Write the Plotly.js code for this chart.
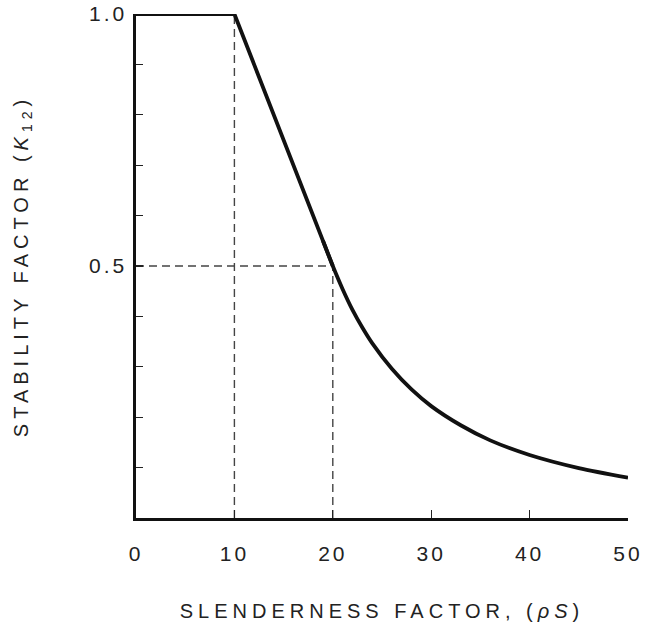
<!DOCTYPE html>
<html>
<head>
<meta charset="utf-8">
<script src="https://cdn.plot.ly/plotly-3.0.1.min.js"></script>
<style>
  html, body { margin: 0; padding: 0; background: #fff; }
  #chart { width: 645px; height: 629px; }
  .xtick text, .ytick text { letter-spacing: 3px; }
  .g-xtitle text, .g-ytitle text { letter-spacing: 5px; }
</style>
</head>
<body>
<div id="chart"></div>
<script>
// Stability factor K12 vs slenderness factor (rho S)
// Straight part: plateau and linear ramp
var rampX = [0, 10, 20];
var rampY = [1.0, 1.0, 0.50];
// Curved decay beyond rho S = 20 (starts on the ramp so the join is smooth)
var decayX = [19, 20, 21, 22, 23, 24, 26, 28, 30, 33, 36, 40, 45, 50];
var decayY = [0.55, 0.50, 0.454, 0.413, 0.378, 0.347, 0.296, 0.255, 0.222, 0.184, 0.154, 0.125, 0.099, 0.080];

// Reference (dashed) guide lines
var guideVert10X = [10, 10];
var guideVert10Y = [0, 1.0];
var guideVert20X = [20, 20];
var guideVert20Y = [0, 0.5];
var guideHorizX  = [0, 20];
var guideHorizY  = [0.5, 0.5];

var xTickVals = [0, 10, 20, 30, 40, 50];
var xTickText = ['0', '10', '20', '30', '40', '50'];
var yTickVals = [0.1, 0.2, 0.3, 0.4, 0.5, 0.6, 0.7, 0.8, 0.9, 1.0];
var yTickText = ['', '', '', '', '0.5', '', '', '', '', '1.0'];

var dashStyle = {color: '#444', width: 1.4, dash: '8px,5px'};
var curveLine = {color: '#111', width: 3.8};

var traces = [
  {x: guideVert10X, y: guideVert10Y, mode: 'lines', line: dashStyle, hoverinfo: 'skip', cliponaxis: false},
  {x: guideVert20X, y: guideVert20Y, mode: 'lines', line: dashStyle, hoverinfo: 'skip', cliponaxis: false},
  {x: guideHorizX,  y: guideHorizY,  mode: 'lines', line: dashStyle, hoverinfo: 'skip', cliponaxis: false},
  {x: rampX, y: rampY, mode: 'lines', line: curveLine, cliponaxis: false},
  {x: decayX, y: decayY, mode: 'lines',
   line: {color: curveLine.color, width: curveLine.width, shape: 'spline', smoothing: 0.8}, cliponaxis: false}
];

var tickFont = {family: 'Liberation Sans, Arial, sans-serif', size: 21, color: '#222'};
var titleFont = {family: 'Liberation Sans, Arial, sans-serif', size: 20, color: '#222'};

var layout = {
  width: 645, height: 629,
  margin: {l: 136, r: 17, t: 14, b: 111},
  paper_bgcolor: '#fff', plot_bgcolor: '#fff',
  showlegend: false,
  xaxis: {
    range: [0, 50], tickvals: xTickVals, ticktext: xTickText,
    ticks: 'inside', ticklen: 8, tickwidth: 1.2, tickcolor: '#222',
    showline: true, linewidth: 2.6, linecolor: '#111',
    showgrid: false, zeroline: false, tickfont: tickFont,
    ticklabelstandoff: 15,
    title: {text: 'SLENDERNESS FACTOR, (<i>ρS</i>)', font: titleFont, standoff: 41},
    automargin: false, fixedrange: true
  },
  yaxis: {
    range: [0, 1.0], tickvals: yTickVals, ticktext: yTickText,
    ticks: 'inside', ticklen: 7, tickwidth: 1.2, tickcolor: '#222',
    showline: true, linewidth: 2.6, linecolor: '#111',
    showgrid: false, zeroline: false, tickfont: tickFont,
    ticklabelstandoff: 2,
    title: {text: 'STABILITY FACTOR (<i>K</i><sub>12</sub>)', font: titleFont, standoff: 55},
    automargin: false, fixedrange: true
  }
};

Plotly.newPlot('chart', traces, layout, {displayModeBar: false, staticPlot: true});
</script>
</body>
</html>
